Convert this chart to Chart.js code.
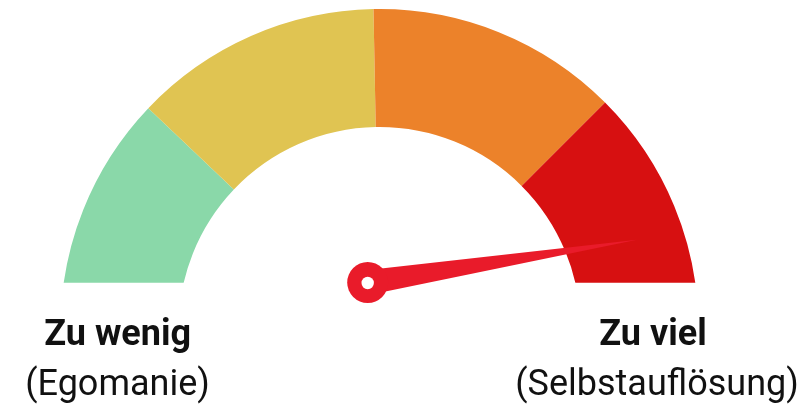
<!DOCTYPE html>
<html>
<head>
<meta charset="utf-8">
<script src="https://cdn.jsdelivr.net/npm/chart.js@4/dist/chart.umd.min.js"></script>
<style>
  html, body { margin: 0; padding: 0; background: #fff; }
  canvas { display: block; }
</style>
</head>
<body>
<canvas id="gauge" width="808" height="404"></canvas>
<script>
// gauge zones, left to right
var zones = ['Zu wenig', 'Niedrig', 'Hoch', 'Zu viel'];
var zoneValues = [24.2, 25.2, 25.6, 25];
var zoneColors = ['#8ad8a9', '#e0c452', '#ec822a', '#d71011'];

// needle position on the same 0..100 scale
var needleValue = 95;

// captions under both ends
var endTitles = ['Zu wenig', 'Zu viel'];
var endSubtitles = ['(Egomanie)', '(Selbstauflösung)'];

var needlePlugin = {
    id: 'needle',
    afterDatasetsDraw: function (chart) {
        var ctx = chart.ctx;
        var arc = chart.getDatasetMeta(0).data[0];
        var total = zoneValues.reduce(function (a, b) { return a + b; }, 0);
        var R = arc.outerRadius;
        var px = arc.x - 0.037 * R;
        var py = chart.chartArea.bottom - 45.5;
        var angle = Math.PI + (needleValue / total) * Math.PI;
        var len = 0.855 * R;
        var half = 12.5;
        var tx = px + len * Math.cos(angle);
        var ty = py + len * Math.sin(angle);
        var nx = -Math.sin(angle), ny = Math.cos(angle);

        ctx.save();
        ctx.fillStyle = '#e91b2a';
        ctx.beginPath();
        ctx.moveTo(px + nx * half, py + ny * half);
        ctx.lineTo(tx, ty);
        ctx.lineTo(px - nx * half, py - ny * half);
        ctx.closePath();
        ctx.fill();
        ctx.beginPath();
        ctx.arc(px, py, 20.5, 0, Math.PI * 2);
        ctx.fill();
        ctx.fillStyle = '#fff';
        ctx.beginPath();
        ctx.arc(px, py + 0.5, 6.2, 0, Math.PI * 2);
        ctx.fill();
        ctx.restore();
    }
};

var captionPlugin = {
    id: 'captions',
    afterDraw: function (chart) {
        var ctx = chart.ctx;
        var titleX = [117.7, 653];
        var subX = [117.5, 657];
        ctx.save();
        ctx.fillStyle = '#111';
        ctx.textAlign = 'center';
        ctx.textBaseline = 'alphabetic';
        for (var i = 0; i < endTitles.length; i++) {
            ctx.font = 'bold 36px Roboto';
            ctx.fillText(endTitles[i], titleX[i], 344.5);
            ctx.font = '36px Roboto';
            ctx.fillText(endSubtitles[i], subX[i], 394.5);
        }
        ctx.restore();
    }
};

var context = document.getElementById('gauge').getContext('2d');
var gaugeChart = new Chart(context, {
    type: 'doughnut',
    data: {
        labels: zones,
        datasets: [{
            data: zoneValues,
            backgroundColor: zoneColors,
            borderWidth: 0,
            hoverOffset: 0,
            clip: { top: 6, left: 6, right: 6, bottom: -45.3 }
        }]
    },
    options: {
        responsive: false,
        animation: false,
        events: [],
        rotation: -90,
        circumference: 180,
        cutout: '63%',
        layout: { padding: { left: 60.5, right: 109.5, top: 9, bottom: 76 } },
        plugins: {
            legend: { display: false },
            tooltip: { enabled: false }
        }
    },
    plugins: [needlePlugin, captionPlugin]
});
</script>
</body>
</html>
